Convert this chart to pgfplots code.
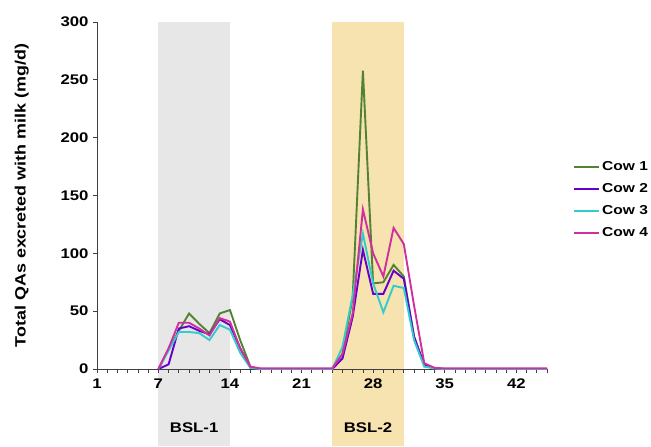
\documentclass[border=0pt]{standalone}
\usepackage{fontspec}
\setmainfont{Liberation Sans}[FakeStretch=1.2]
\usepackage{pgfplots}
\pgfplotsset{compat=1.18}
\definecolor{cgreen}{RGB}{84,130,53}
\definecolor{cpurple}{RGB}{102,0,204}
\definecolor{ccyan}{RGB}{51,204,204}
\definecolor{cmag}{RGB}{208,48,158}
\definecolor{shgray}{RGB}{231,231,231}
\definecolor{shyel}{RGB}{247,227,175}
\newcommand{\fnt}{\fontsize{14}{16}\selectfont\bfseries}
\newcommand{\fntl}{\fontsize{13}{15}\selectfont\bfseries}
\newcommand{\fnty}{\fontsize{15}{17}\selectfont\bfseries}
\begin{document}
\begin{tikzpicture}
\begin{axis}[
  set layers,
  scale only axis,
  width=450bp, height=347bp,
  xmin=1, xmax=45, ymin=0, ymax=300,
  clip=false,
  axis x line=bottom, axis y line=left,
  axis line style={-, black!75, line width=0.8pt},
  xtick={1,7,14,21,28,35,42},
  minor xtick={1,...,45},
  ytick={0,50,...,300},
  tick align=outside,
  major tick length=4bp, minor tick length=4bp,
  tick style={black!75, line width=0.7pt},
  ticklabel style={font=\fnt},
  /pgf/number format/assume math mode=true,
  xticklabel style={yshift=-2bp},
  yticklabel style={xshift=-1bp},
  ylabel={Total QAs excreted with milk (mg/d)},
  every axis y label/.style={at={(axis description cs:-0.167,0.5)}, rotate=90, anchor=center, font=\fnty},
  legend style={at={(axis description cs:1.058,0.487)}, anchor=west, draw=none, fill=none, font=\fntl, row sep=7.5bp, cells={anchor=west}, inner xsep=0pt},
  legend image code/.code={\draw[#1] (0cm,0cm) -- (25bp,0cm);},
  every axis plot/.append style={line width=1.9bp},
]
\begin{pgfonlayer}{axis background}
\fill[shgray] (axis cs:7,-66.5) rectangle (axis cs:14,300);
\fill[shyel] (axis cs:24,-66.5) rectangle (axis cs:31,300);
\end{pgfonlayer}
\coordinate (ll) at (rel axis cs:0,0);
\coordinate (ur) at (rel axis cs:1,1);
\addplot[cgreen] coordinates {
(7,0)(8,17)(9,33)(10,48)(11,39)(12,31)(13,48)(14,51)(15,25)(16,2)(17,0)(18,0)(19,0)(20,0)(21,0)(22,0)(23,0)(24,0)
(25,13)(26,62)(27,258)(28,74)(29,75)(30,90)(31,80)(32,28)(33,3)(34,0.5)(35,0)(36,0)(37,0)(38,0)(39,0)(40,0)(41,0)(42,0)(43,0)(44,0)(45,0)};
\addlegendentry{Cow 1}
\addplot[cpurple] coordinates {
(7,0)(8,4)(9,35)(10,37)(11,33)(12,30)(13,43)(14,38)(15,18)(16,1)(17,0)(18,0)(19,0)(20,0)(21,0)(22,0)(23,0)(24,0)
(25,9)(26,45)(27,103)(28,65)(29,65)(30,85)(31,78)(32,28)(33,3.5)(34,0.5)(35,0)(36,0)(37,0)(38,0)(39,0)(40,0)(41,0)(42,0)(43,0)(44,0)(45,0)};
\addlegendentry{Cow 2}
\addplot[ccyan] coordinates {
(7,0)(8,16)(9,32)(10,32)(11,31)(12,25)(13,38)(14,34)(15,14)(16,1)(17,0)(18,0)(19,0)(20,0)(21,0)(22,0)(23,0)(24,0)
(25,19)(26,64)(27,117)(28,74)(29,49)(30,72)(31,70)(32,25)(33,2)(34,0.5)(35,0)(36,0)(37,0)(38,0)(39,0)(40,0)(41,0)(42,0)(43,0)(44,0)(45,0)};
\addlegendentry{Cow 3}
\addplot[cmag] coordinates {
(7,0)(8,18)(9,40)(10,40)(11,35)(12,29)(13,44)(14,41)(15,18)(16,2)(17,0.5)(18,0.5)(19,0.5)(20,0.5)(21,0.5)(22,0.5)(23,0.5)(24,0.5)
(25,13)(26,48)(27,138)(28,100)(29,80)(30,122)(31,108)(32,55)(33,5)(34,1)(35,0.5)(36,0.5)(37,0.5)(38,0.5)(39,0.5)(40,0.5)(41,0.5)(42,0.5)(43,0.5)(44,0.5)(45,0.5)};
\addlegendentry{Cow 4}
\node[font=\fnt] at (axis cs:10.5,-51) {BSL-1};
\node[font=\fnt] at (axis cs:27.5,-51) {BSL-2};
\end{axis}
\pgfresetboundingbox
\path ([xshift=-97bp,yshift=-77bp]ll) rectangle ([xshift=104bp,yshift=22bp]ur);
\end{tikzpicture}
\end{document}
